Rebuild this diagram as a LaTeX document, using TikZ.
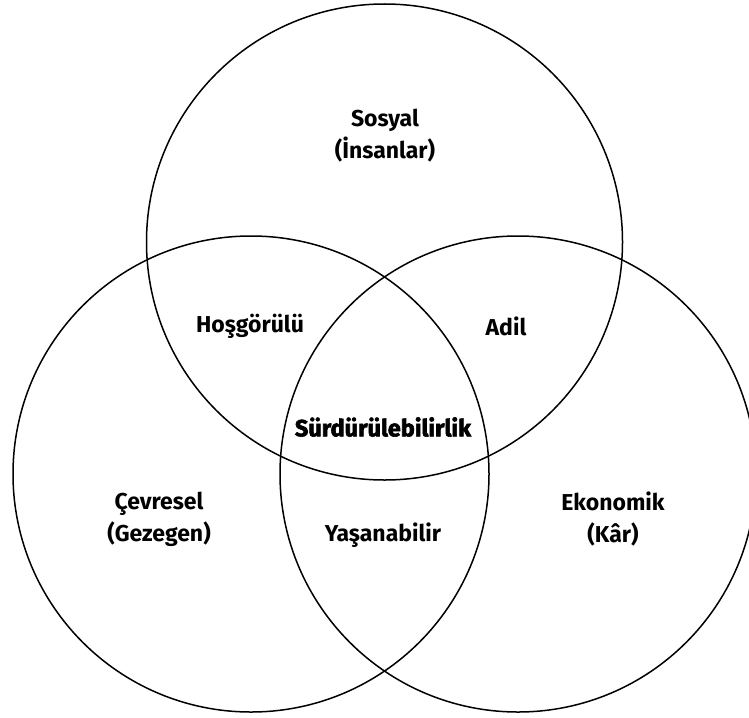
\documentclass[tikz,border=0pt]{standalone}
\usepackage{fontspec}
\setmainfont{Fira Sans}
\begin{document}
\begin{tikzpicture}[x=1pt,y=-1pt,
  ring/.style={circle, draw=black, line width=1.5pt, minimum size=476pt, inner sep=0pt},
  lbl/.style={font=\bfseries\fontsize{23}{32}\selectfont, align=center, text=black, inner sep=0pt},
  core/.style={font=\bfseries\fontsize{23.5}{26}\selectfont\addfontfeature{FakeBold=2.5}, inner sep=0pt}]
  \useasboundingbox (0,0) rectangle (749,717);
  \begin{scope}
    \clip (0,0) rectangle (749,717);
    \node[ring] (top) at (384.5,242) {};
    \node[ring] (left) at (251,474) {};
    \node[ring] (right) at (518,474) {};
  \end{scope}
  \node[lbl] (sosyal) at (385,136) {Sosyal\\(İnsanlar)};
  \node[lbl] (hos) at (250,326) {Hoşgörülü};
  \node[lbl] (adil) at (506,326) {Adil};
  \node[core] (sur) at (383,427) {Sürdürülebilirlik};
  \node[lbl] (cev) at (159,519) {Çevresel\\(Gezegen)};
  \node[lbl] (yas) at (383,535) {Yaşanabilir};
  \node[lbl] (eko) at (613,519) {Ekonomik\\(Kâr)};
\end{tikzpicture}
\end{document}
